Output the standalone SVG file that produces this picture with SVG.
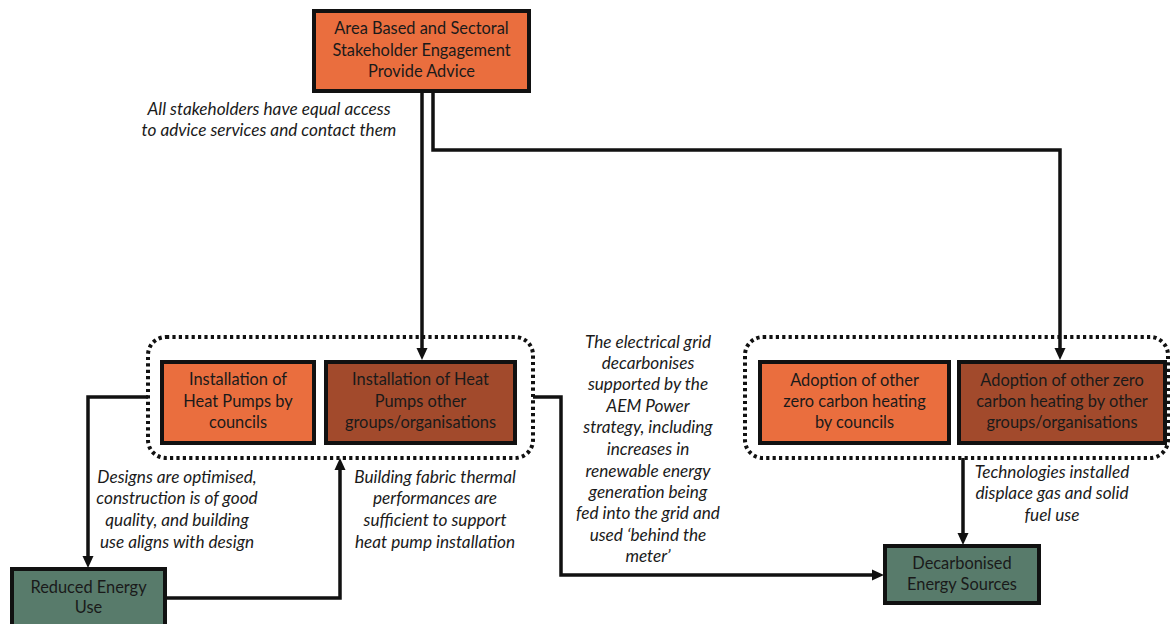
<svg xmlns="http://www.w3.org/2000/svg" width="1171" height="624" viewBox="0 0 1171 624">
<style>
.box{stroke:#111;stroke-width:4}
.orange{fill:#EA6E3E}
.brown{fill:#A24A2C}
.green{fill:#587B6B}
.bt{font-family:Lato,"Liberation Sans",sans-serif;font-size:16.4px;fill:#1a1a1a;text-anchor:middle}
.lbl{font-family:Lato,"Liberation Sans",sans-serif;font-size:17.2px;font-style:italic;fill:#1a1a1a;text-anchor:middle}
.grp{fill:none;stroke:#111;stroke-width:4;stroke-dasharray:3.2 3.2}
.conn{fill:none;stroke:#111;stroke-width:3.5}
</style>
<defs>
<marker id="arr" viewBox="0 0 12 12" markerWidth="12" markerHeight="12" refX="4" refY="6" orient="auto" markerUnits="userSpaceOnUse">
<path d="M0,0.5 L12,6 L0,11.5 z" fill="#111"/>
</marker>
</defs>
<rect width="1171" height="624" fill="#fff"/>

<g id="group-heatpumps"><rect class="grp" x="148" y="337" width="385" height="121" rx="18"/></g>
<g id="group-other"><rect class="grp" x="745" y="337" width="423" height="121" rx="18"/></g>

<g id="connectors">
<path class="conn" d="M422 91 V352" marker-end="url(#arr)"/>
<path class="conn" d="M433 91 V150 H1060 V352" marker-end="url(#arr)"/>
<path class="conn" d="M148 397 H88 V560" marker-end="url(#arr)"/>
<path class="conn" d="M165 598 H340 V466" marker-end="url(#arr)"/>
<path class="conn" d="M533 397 H561 V575 H876" marker-end="url(#arr)"/>
<path class="conn" d="M963 458 V537" marker-end="url(#arr)"/>
</g>

<g id="node-advice">
<rect class="box orange" x="314" y="11" width="215" height="80"/>
<text class="bt" x="421.5" y="34">Area Based and Sectoral</text>
<text class="bt" x="421.5" y="56">Stakeholder Engagement</text>
<text class="bt" x="421.5" y="77">Provide Advice</text>
</g>

<g id="node-hp-councils">
<rect class="box orange" x="162" y="362" width="152" height="81"/>
<text class="bt" x="238" y="385">Installation of</text>
<text class="bt" x="238" y="407">Heat Pumps by</text>
<text class="bt" x="238" y="428">councils</text>
</g>

<g id="node-hp-other">
<rect class="box brown" x="326" y="362" width="189" height="81"/>
<text class="bt" x="420.5" y="385">Installation of Heat</text>
<text class="bt" x="420.5" y="407">Pumps other</text>
<text class="bt" x="420.5" y="428">groups/organisations</text>
</g>

<g id="node-zc-councils">
<rect class="box orange" x="760" y="362" width="189" height="81"/>
<text class="bt" x="854.5" y="386">Adoption of other</text>
<text class="bt" x="854.5" y="407">zero carbon heating</text>
<text class="bt" x="854.5" y="428">by councils</text>
</g>

<g id="node-zc-other">
<rect class="box brown" x="959" y="362" width="206" height="81"/>
<text class="bt" x="1062" y="386">Adoption of other zero</text>
<text class="bt" x="1062" y="407">carbon heating by other</text>
<text class="bt" x="1062" y="428">groups/organisations</text>
</g>

<g id="node-reduced">
<rect class="box green" x="12" y="569" width="153" height="62"/>
<text class="bt" x="88.5" y="593">Reduced Energy</text>
<text class="bt" x="88.5" y="613">Use</text>
</g>

<g id="node-decarb">
<rect class="box green" x="885" y="546" width="154" height="57"/>
<text class="bt" x="962" y="569">Decarbonised</text>
<text class="bt" x="962" y="590">Energy Sources</text>
</g>

<g id="labels">
<text class="lbl" x="269" y="115">All stakeholders have equal access</text>
<text class="lbl" x="269" y="136">to advice services and contact them</text>

<text class="lbl" x="177" y="483">Designs are optimised,</text>
<text class="lbl" x="177" y="504">construction is of good</text>
<text class="lbl" x="177" y="526">quality, and building</text>
<text class="lbl" x="177" y="548">use aligns with design</text>

<text class="lbl" x="435" y="483">Building fabric thermal</text>
<text class="lbl" x="435" y="504">performances are</text>
<text class="lbl" x="435" y="526">sufficient to support</text>
<text class="lbl" x="435" y="548">heat pump installation</text>

<text class="lbl" x="648" y="348">The electrical grid</text>
<text class="lbl" x="648" y="369">decarbonises</text>
<text class="lbl" x="648" y="390">supported by the</text>
<text class="lbl" x="648" y="412">AEM Power</text>
<text class="lbl" x="648" y="433">strategy, including</text>
<text class="lbl" x="648" y="455">increases in</text>
<text class="lbl" x="648" y="477">renewable energy</text>
<text class="lbl" x="648" y="498">generation being</text>
<text class="lbl" x="648" y="519">fed into the grid and</text>
<text class="lbl" x="648" y="541">used ‘behind the</text>
<text class="lbl" x="648" y="562">meter’</text>

<text class="lbl" x="1052" y="478">Technologies installed</text>
<text class="lbl" x="1052" y="499">displace gas and solid</text>
<text class="lbl" x="1052" y="521">fuel use</text>
</g>
</svg>
